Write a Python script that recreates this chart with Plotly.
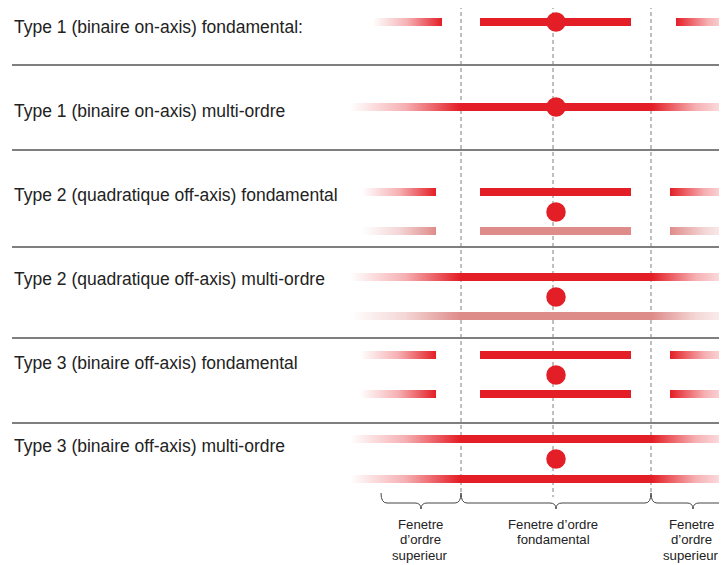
import plotly.graph_objects as go

W, H = 727, 565
PAGE_OFFSET = 8  # browser default body margin

# ---- data ----
row_labels = [
    "Type 1 (binaire on-axis) fondamental:",
    "Type 1 (binaire on-axis) multi-ordre",
    "Type 2 (quadratique off-axis) fondamental",
    "Type 2 (quadratique off-axis) multi-ordre",
    "Type 3 (binaire off-axis) fondamental",
    "Type 3 (binaire off-axis) multi-ordre",
]
label_y = [27, 111, 195, 279, 363, 446]
separator_y = [65, 150, 247, 338, 423]

window_x = [461, 553, 651]          # dashed window boundaries / centre
dot_x = 556
dot_y = [22, 107, 212, 297, 375, 459]

# bars: (x0, x1, y, fade_left_len, fade_right_len, shade)
bars = [
    (373, 442, 22, 69, 0, "dark"), (480, 631, 22, 0, 0, "dark"), (676, 740, 22, 0, 64, "dark"),
    (350, 740, 107, 110, 88, "dark"),
    (362, 436, 192, 74, 0, "dark"), (480, 631, 192, 0, 0, "dark"), (670, 740, 192, 0, 70, "dark"),
    (362, 436, 231, 74, 0, "light"), (480, 631, 231, 0, 0, "light"), (670, 740, 231, 0, 70, "light"),
    (350, 740, 277, 110, 88, "dark"),
    (350, 740, 316, 110, 88, "light"),
    (360, 436, 355, 76, 0, "dark"), (480, 631, 355, 0, 0, "dark"), (670, 740, 355, 0, 70, "dark"),
    (360, 436, 394, 76, 0, "dark"), (480, 631, 394, 0, 0, "dark"), (670, 740, 394, 0, 70, "dark"),
    (350, 740, 439, 110, 88, "dark"),
    (350, 740, 479, 110, 88, "dark"),
]

# braces: (x_start, x_tip, x_end)
braces = [(381, 421, 461), (461, 556, 651), (651, 693, 735)]
window_labels = [
    (420, ["Fenetre", "d’ordre", "superieur"]),
    (553, ["Fenetre d’ordre", "fondamental"]),
    (691, ["Fenetre", "d’ordre", "superieur"]),
]

RED = (228, 30, 38)
PINK = (222, 140, 138)
BAR_HALF = 4
FONT = "Liberation Sans, Arial, sans-serif"

fig = go.Figure()

for x0, x1, y, fl, fr, shade in bars:
    r, g, b = RED if shade == "dark" else PINK
    L = x1 - x0
    solid = f"rgba({r},{g},{b},1)"
    clear = f"rgba({r},{g},{b},0)"
    stops = []
    if fl > 0:
        stops += [[0.0, clear], [fl / L * 0.5, f"rgba({r},{g},{b},0.35)"], [fl / L, solid]]
    else:
        stops += [[0.0, solid]]
    if fr > 0:
        stops += [[1 - fr / L, solid], [1 - fr / L * 0.5, f"rgba({r},{g},{b},0.35)"], [1.0, clear]]
    else:
        stops += [[1.0, solid]]
    fig.add_trace(go.Scatter(
        x=[x0, x1, x1, x0, x0],
        y=[y - BAR_HALF, y - BAR_HALF, y + BAR_HALF, y + BAR_HALF, y - BAR_HALF],
        mode="lines", line=dict(width=0), fill="toself",
        fillgradient=dict(type="horizontal", colorscale=stops),
        hoverinfo="skip", showlegend=False,
    ))

# dots
fig.add_trace(go.Scatter(
    x=[dot_x] * len(dot_y), y=dot_y, mode="markers",
    marker=dict(size=19.5, color="rgb(228,30,38)", line=dict(width=0)),
    hoverinfo="skip", showlegend=False,
))

shapes = []
for y in separator_y:
    shapes.append(dict(type="line", x0=12, x1=W, y0=y, y1=y,
                       line=dict(color="#555555", width=1.6), layer="below"))
for x in window_x:
    shapes.append(dict(type="line", x0=x, x1=x, y0=5, y1=497,
                       line=dict(color="#808080", width=1, dash="4px,3px"), layer="below"))

yb0, yb1, yb2 = 493, 503, 509
for xs, xm, xe in braces:
    r = 6
    path = (f"M {xs},{yb0} Q {xs},{yb1} {xs+r},{yb1} L {xm-r},{yb1} "
            f"Q {xm},{yb1} {xm},{yb2} Q {xm},{yb1} {xm+r},{yb1} "
            f"L {xe-r},{yb1} Q {xe},{yb1} {xe},{yb0}")
    shapes.append(dict(type="path", path=path, line=dict(color="#444444", width=1)))

annotations = []
for txt, y in zip(row_labels, label_y):
    annotations.append(dict(x=12, y=y, text=txt, showarrow=False, xanchor="left",
                            yanchor="middle", font=dict(size=17.5, color="#222222", family=FONT)))
for x, lines in window_labels:
    for i, t in enumerate(lines):
        annotations.append(dict(x=x, y=524 + i * 15.5, text=t, showarrow=False,
                                xanchor="center", yanchor="middle",
                                font=dict(size=13.2, color="#222222", family=FONT)))

fig.update_layout(
    width=W - 2 * PAGE_OFFSET, height=H - PAGE_OFFSET, margin=dict(l=0, r=0, t=0, b=0),
    paper_bgcolor="white", plot_bgcolor="white",
    xaxis=dict(range=[PAGE_OFFSET, W - PAGE_OFFSET], visible=False, fixedrange=True),
    yaxis=dict(range=[H, PAGE_OFFSET], visible=False, fixedrange=True),
    shapes=shapes, annotations=annotations, showlegend=False,
)

fig.write_html("out.html")
